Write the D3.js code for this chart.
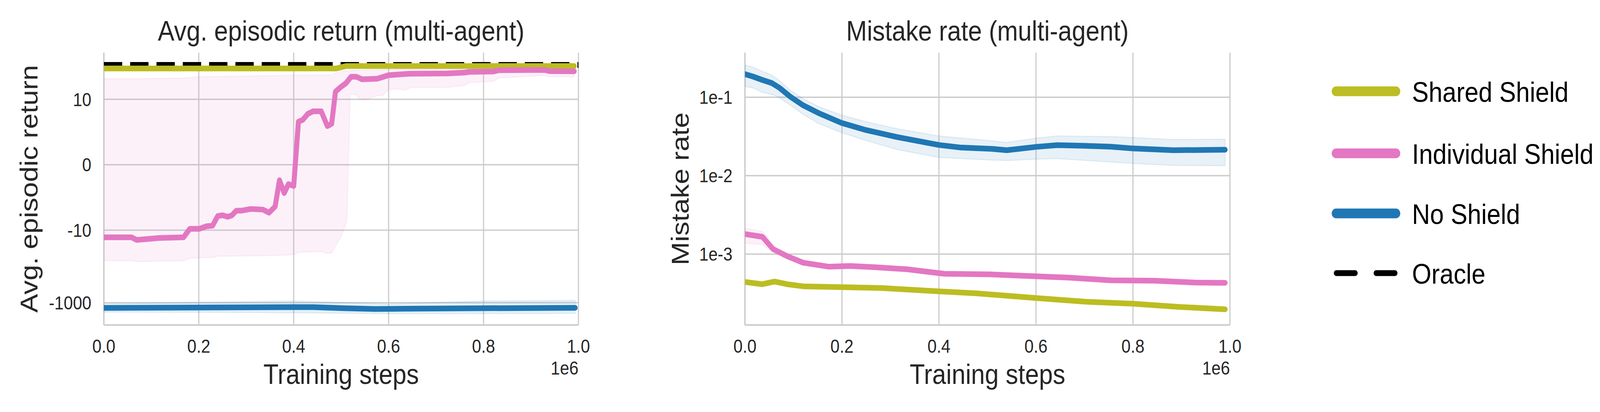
<!DOCTYPE html>
<html>
<head>
<meta charset="utf-8">
<script src="https://d3js.org/d3.v7.min.js"></script>
<style>
  html, body { margin: 0; padding: 0; background: #fff; overflow: hidden; }
  #chart { display: block; width: 100vw; height: 100vh; }
  text { font-family: "Liberation Sans", Arial, Helvetica, sans-serif; }
</style>
</head>
<body>
<svg id="chart" viewBox="0 0 4622 1056" preserveAspectRatio="none"></svg>
<script>
// ---- data: [training step, value] ----

// left panel: avg. episodic return (symlog y axis)
const oracleReturn = [[0, 89.0], [1000000, 89.0]];

const sharedReturn = [[0, 71.4], [200000, 71.4], [490000, 71.4], [510000, 83.0], [991000, 83.0]];

const individualReturn = [
  [0, -15.8], [58000, -15.8], [69000, -18.7], [116000, -16.5], [168000, -15.8],
  [181000, -9.2], [201000, -9.2], [216000, -7.8], [229000, -7.5], [240000, -4.0],
  [250000, -3.8], [261000, -4.2], [270000, -3.8], [279000, -2.8], [290000, -2.8],
  [309000, -2.5], [335000, -2.6], [348000, -3.2], [361000, -2.1], [370000, -0.27],
  [380000, -0.81], [389000, -0.39], [400000, -0.46], [410000, 2.3], [419000, 2.6],
  [430000, 3.9], [441000, 4.6], [458000, 4.6], [471000, 1.7], [480000, 2.0],
  [488000, 16.3], [499000, 21.8], [510000, 27.9], [521000, 42.2], [532000, 42.2],
  [544000, 35.8], [576000, 37.2], [587000, 41.1], [600000, 46.6], [643000, 51.0],
  [724000, 51.9], [760000, 54.9], [770000, 57.3], [821000, 58.8], [832000, 63.7],
  [929000, 64.9], [939000, 60.2], [991000, 59.6]
];
const individualReturnLo = [
  [0, -70.2], [60000, -70.2], [71000, -74.5], [168000, -70.2], [181000, -59.6],
  [231000, -57.2], [240000, -52.7], [357000, -50.5], [400000, -47.7], [411000, -41.1],
  [458000, -39.4], [471000, -43.9], [480000, -42.8], [501000, -14.0], [512000, -5.6],
  [514000, -0.5], [519000, 13.8], [530000, 13.8], [540000, 9.9], [551000, 9.6],
  [576000, 12.7], [587000, 12.7], [600000, 18.4], [620000, 19.5], [632000, 18.0],
  [649000, 21.3], [724000, 21.6], [760000, 24.1], [770000, 29.1], [821000, 31.6],
  [832000, 38.9], [929000, 45.9], [939000, 42.2], [991000, 42.2]
];
const individualReturnHi = [
  [0, 37.0], [60000, 37.0], [168000, 38.9], [201000, 42.2], [400000, 46.2],
  [481000, 47.7], [499000, 59.2], [521000, 63.7], [600000, 67.0], [821000, 72.1],
  [832000, 78.2], [991000, 77.7]
];

const noShieldReturn = [
  [0, -1390], [200000, -1360], [400000, -1323], [441000, -1325], [506000, -1418],
  [572000, -1490], [637000, -1464], [800000, -1418], [993000, -1383]
];
const noShieldReturnLo = [
  [0, -1815], [200000, -1830], [400000, -1893], [600000, -2000], [800000, -1990], [993000, -1968]
];
const noShieldReturnHi = [
  [0, -1081], [200000, -979], [400000, -903], [506000, -1000], [600000, -1081],
  [800000, -900], [993000, -865]
];

// right panel: mistake rate (log y axis)
const sharedMistake = [
  [0, 0.000441], [36000, 0.000413], [61000, 0.000446], [87000, 0.000413], [120000, 0.000388],
  [199000, 0.000379], [282000, 0.000369], [400000, 0.000335], [476000, 0.000316],
  [601000, 0.000275], [702000, 0.000247], [801000, 0.000233], [896000, 0.000212], [990000, 0.000198]
];

const individualMistake = [
  [0, 0.00180], [36000, 0.00166], [45000, 0.00143], [58000, 0.00116], [87000, 0.00094],
  [120000, 0.000776], [172000, 0.000692], [217000, 0.000705], [269000, 0.000679],
  [333000, 0.000641], [411000, 0.000561], [508000, 0.000551], [601000, 0.000520],
  [670000, 0.000500], [754000, 0.000463], [845000, 0.000458], [929000, 0.000433], [990000, 0.000430]
];
const individualMistakeLo = [
  [0, 0.00138], [36000, 0.00132], [45000, 0.00120], [58000, 0.00107], [87000, 0.00090],
  [120000, 0.000748], [172000, 0.000667], [269000, 0.000654], [411000, 0.000540],
  [601000, 0.000501], [754000, 0.000446], [929000, 0.000417], [990000, 0.000414]
];
const individualMistakeHi = [
  [0, 0.00213], [36000, 0.00195], [45000, 0.00170], [58000, 0.00125], [87000, 0.00098],
  [120000, 0.000805], [172000, 0.000718], [269000, 0.000705], [411000, 0.000582],
  [601000, 0.000540], [754000, 0.000481], [929000, 0.000450], [990000, 0.000447]
];

const noShieldMistake = [
  [0, 0.197], [16000, 0.184], [36000, 0.166], [55000, 0.152], [71000, 0.132], [94000, 0.101],
  [120000, 0.0789], [152000, 0.0627], [199000, 0.0471], [249000, 0.0382], [314000, 0.0310],
  [400000, 0.0246], [443000, 0.0229], [508000, 0.0220], [540000, 0.0211], [601000, 0.0233],
  [644000, 0.0245], [702000, 0.0240], [754000, 0.0234], [801000, 0.0222], [883000, 0.0211],
  [990000, 0.0214]
];
const noShieldMistakeLo = [
  [0, 0.137], [16000, 0.132], [36000, 0.115], [55000, 0.109], [71000, 0.0991], [94000, 0.0789],
  [120000, 0.0604], [152000, 0.0461], [199000, 0.0354], [249000, 0.0281], [314000, 0.0215],
  [400000, 0.0171], [508000, 0.0158], [540000, 0.0156], [601000, 0.0162], [644000, 0.0165],
  [801000, 0.0143], [883000, 0.0135], [990000, 0.0134]
];
const noShieldMistakeHi = [
  [0, 0.257], [16000, 0.243], [36000, 0.214], [55000, 0.193], [71000, 0.163], [94000, 0.122],
  [120000, 0.0955], [152000, 0.0759], [199000, 0.0592], [249000, 0.0489], [314000, 0.0396],
  [400000, 0.0321], [508000, 0.0279], [540000, 0.0265], [601000, 0.0301], [644000, 0.0321],
  [754000, 0.0315], [801000, 0.0306], [883000, 0.0289], [990000, 0.0292]
];

// ticks and labels
const xTicks = [0, 200000, 400000, 600000, 800000, 1000000];
const xTickLabels = ["0.0", "0.2", "0.4", "0.6", "0.8", "1.0"];
const returnTicks = [-1000, -10, 0, 10];
const returnTickLabels = ["-1000", "-10", "0", "10"];
const mistakeTicks = [1e-1, 1e-2, 1e-3];
const mistakeTickLabels = ["1e-1", "1e-2", "1e-3"];

const legendNames = ["Shared Shield", "Individual Shield", "No Shield", "Oracle"];
const legendColors = ["#bcbd22", "#e377c2", "#1f77b4", "#000000"];

// ---- drawing ----
// the page is laid out in 4622x1056 units and stretched to whatever the window is
const svg = d3.select("#chart");
svg.append("rect").attr("width", 4622).attr("height", 1056).attr("fill", "#fff");

const textColor = "#262626";
const gridColor = "#cccccc";
const lineWidth = 14.5;

function drawPanel(p) {
  const x = d3.scaleLinear().domain([0, 1000000]).range([p.left, p.right]);
  const y = p.y;
  const g = svg.append("g");

  g.append("clipPath").attr("id", p.id + "-clip")
    .append("rect")
    .attr("x", p.left).attr("y", p.top)
    .attr("width", p.right - p.left).attr("height", p.bottom - p.top);

  // grid
  g.selectAll(".vgrid").data(xTicks).enter().append("line")
    .attr("x1", d => x(d)).attr("x2", d => x(d))
    .attr("y1", p.top).attr("y2", p.bottom)
    .attr("stroke", gridColor).attr("stroke-width", 3.4);
  g.selectAll(".hgrid").data(p.yTicks).enter().append("line")
    .attr("x1", p.left).attr("x2", p.right)
    .attr("y1", d => y(d)).attr("y2", d => y(d))
    .attr("stroke", gridColor).attr("stroke-width", 3.4);

  // spines (left + bottom only)
  g.append("line").attr("x1", p.left).attr("x2", p.left).attr("y1", p.top).attr("y2", p.bottom)
    .attr("stroke", gridColor).attr("stroke-width", 3.8);
  g.append("line").attr("x1", p.left).attr("x2", p.right).attr("y1", p.bottom).attr("y2", p.bottom)
    .attr("stroke", gridColor).attr("stroke-width", 3.8);

  const plot = g.append("g").attr("clip-path", `url(#${p.id}-clip)`);
  const line = d3.line().x(d => x(d[0])).y(d => y(d[1]));

  // confidence bands
  p.bands.forEach(b => {
    const pts = b.hi.concat(b.lo.slice().reverse());
    plot.append("path")
      .attr("d", line(pts) + "Z")
      .attr("fill", b.color).attr("fill-opacity", 0.1)
      .attr("stroke", b.color).attr("stroke-opacity", 0.1).attr("stroke-width", 3);
  });

  if (p.oracle) {
    plot.append("path")
      .attr("d", line(p.oracle))
      .attr("fill", "none").attr("stroke", "#000")
      .attr("stroke-width", 15).attr("stroke-dasharray", "53,23");
  }

  p.lines.forEach(l => {
    plot.append("path")
      .attr("d", line(l.data))
      .attr("fill", "none").attr("stroke", l.color)
      .attr("stroke-width", lineWidth)
      .attr("stroke-linecap", "round").attr("stroke-linejoin", "round");
  });

  // tick labels
  g.selectAll(".xt").data(xTicks).enter().append("text")
    .attr("x", d => x(d)).attr("y", 904)
    .attr("text-anchor", "middle").attr("font-size", 48).attr("fill", textColor)
    .text((d, i) => xTickLabels[i]);
  g.append("text").attr("x", p.right).attr("y", 960)
    .attr("text-anchor", "end").attr("font-size", 48).attr("fill", textColor)
    .text("1e6");
  g.selectAll(".yt").data(p.yTicks).enter().append("text")
    .attr("x", p.left - 36).attr("y", d => y(d)).attr("dy", "0.358em")
    .attr("text-anchor", "end").attr("font-size", 48).attr("fill", textColor)
    .text((d, i) => p.yTickLabels[i]);

  // titles
  const cx = (p.left + p.right) / 2, cy = (p.top + p.bottom) / 2;
  g.append("text").attr("x", cx).attr("y", 104)
    .attr("text-anchor", "middle").attr("font-size", 72).attr("fill", textColor)
    .text(p.title);
  g.append("text").attr("x", cx).attr("y", 984)
    .attr("text-anchor", "middle").attr("font-size", 72).attr("fill", textColor)
    .text("Training steps");
  g.append("text")
    .attr("transform", `translate(${p.yLabelX},${cy}) rotate(-90)`)
    .attr("text-anchor", "middle").attr("font-size", 72).attr("fill", textColor)
    .text(p.yLabel);
}

const returnY = d3.scaleSymlog().constant(0.162).domain([-4096, 193.8]).range([833, 135]);
const mistakeY = d3.scaleLog().domain([1.247e-4, 0.370]).range([833, 135]);

drawPanel({
  id: "ret", left: 300, right: 1671, top: 135, bottom: 833,
  y: returnY, yTicks: returnTicks, yTickLabels: returnTickLabels,
  title: "Avg. episodic return (multi-agent)", yLabel: "Avg. episodic return", yLabelX: 108,
  oracle: oracleReturn,
  bands: [
    { lo: individualReturnLo, hi: individualReturnHi, color: legendColors[1] },
    { lo: noShieldReturnLo, hi: noShieldReturnHi, color: legendColors[2] }
  ],
  lines: [
    { data: sharedReturn, color: legendColors[0] },
    { data: individualReturn, color: legendColors[1] },
    { data: noShieldReturn, color: legendColors[2] }
  ]
});

drawPanel({
  id: "mis", left: 2152, right: 3553, top: 135, bottom: 833,
  y: mistakeY, yTicks: mistakeTicks, yTickLabels: mistakeTickLabels,
  title: "Mistake rate (multi-agent)", yLabel: "Mistake rate", yLabelX: 1989,
  bands: [
    { lo: individualMistakeLo, hi: individualMistakeHi, color: legendColors[1] },
    { lo: noShieldMistakeLo, hi: noShieldMistakeHi, color: legendColors[2] }
  ],
  lines: [
    { data: sharedMistake, color: legendColors[0] },
    { data: individualMistake, color: legendColors[1] },
    { data: noShieldMistake, color: legendColors[2] }
  ]
});

// legend
const legendRows = [234, 393, 547, 700];
const legend = svg.append("g");
legendNames.forEach((name, i) => {
  const ly = legendRows[i];
  const isOracle = name === "Oracle";
  legend.append("line")
    .attr("x1", isOracle ? 3860.5 : 3859.5).attr("x2", isOracle ? 4030 : 4032.5)
    .attr("y1", ly).attr("y2", ly)
    .attr("stroke", legendColors[i])
    .attr("stroke-width", isOracle ? 15 : 25)
    .attr("stroke-linecap", "round")
    .attr("stroke-dasharray", isOracle ? "54,61" : null);
  legend.append("text")
    .attr("x", 4079).attr("y", ly + 27)
    .attr("font-size", 72).attr("fill", "#000")
    .text(name);
});
</script>
</body>
</html>
